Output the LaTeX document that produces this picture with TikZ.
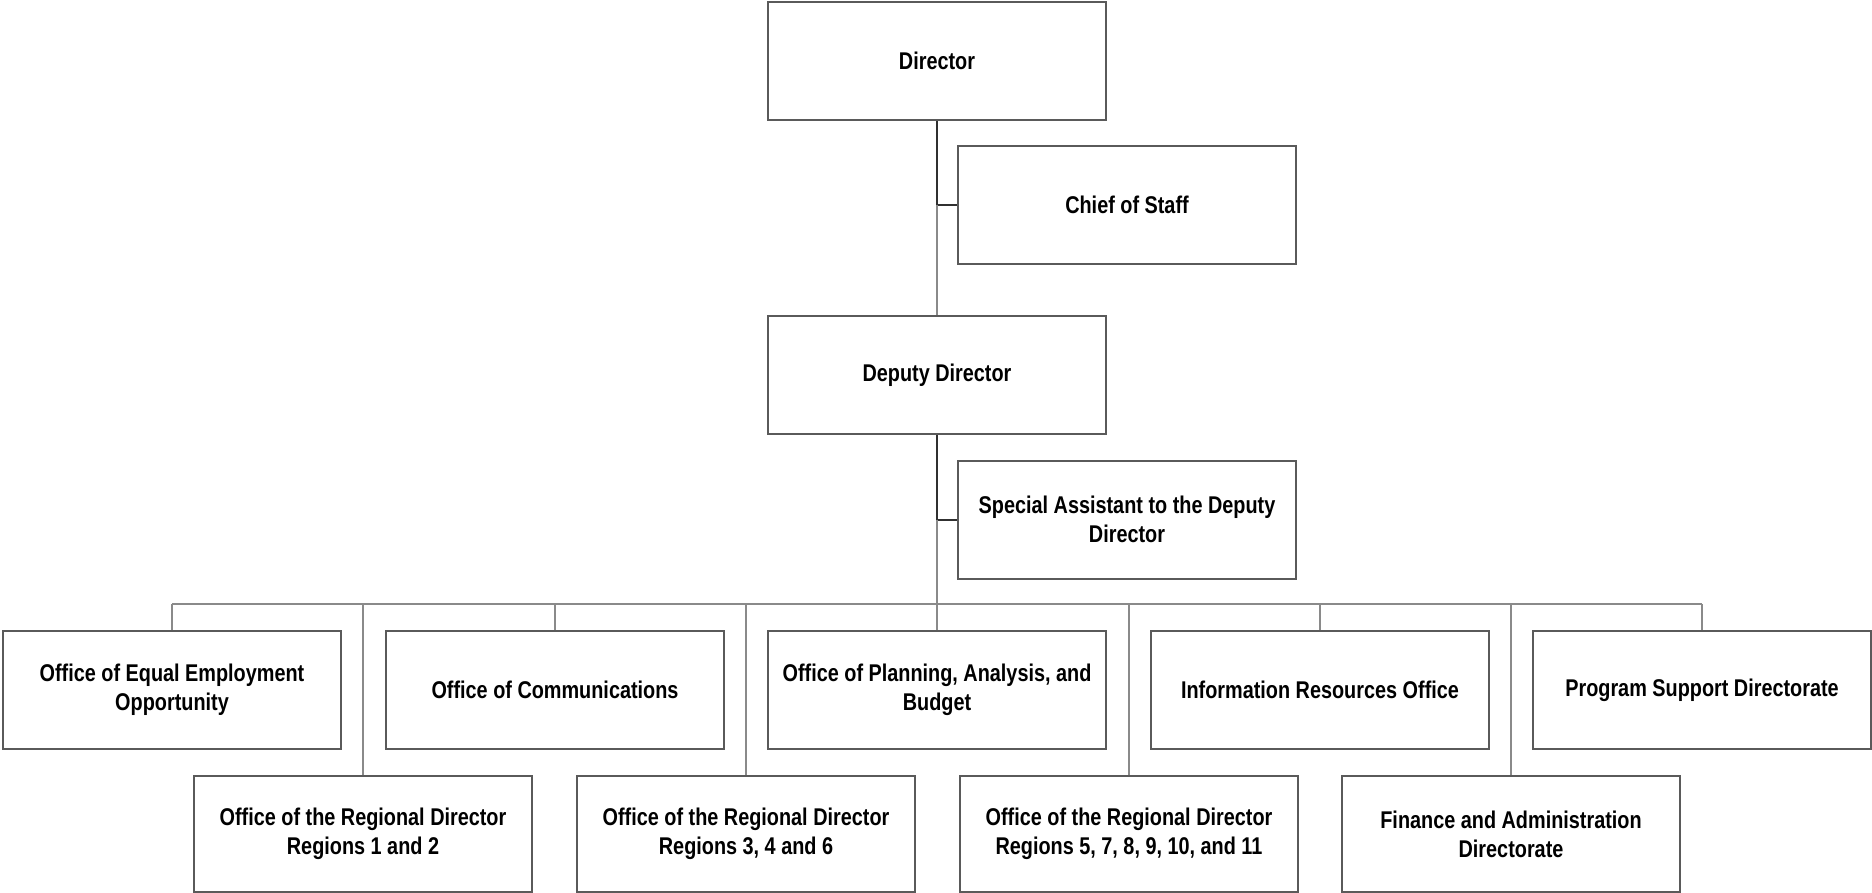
\documentclass[tikz,border=0pt]{standalone}
\usepackage{fontspec}
\setmainfont{Liberation Sans}[FakeStretch=0.82]
\usetikzlibrary{positioning,calc}
\definecolor{boxEdge}{HTML}{5A5A5A}
\definecolor{linkGray}{HTML}{8A8A8A}
\definecolor{linkDark}{HTML}{303030}

\tikzset{
  unitbox/.style={draw=boxEdge, line width=1pt, fill=white, minimum width=169pt,
    minimum height=59pt, align=center, inner sep=2pt,
    font=\fontsize{12.1pt}{14.6pt}\selectfont\bfseries},
  lowbox/.style={unitbox, minimum height=58pt},
  linkthin/.style={draw=linkGray, line width=0.6pt},
  linkbold/.style={draw=linkDark, line width=1pt}
}

\begin{document}
\begin{tikzpicture}[x=0.5pt, y=-0.5pt]
        \useasboundingbox (0,0) rectangle (1872,893);
        % top of the chart
        \node[unitbox] (dir) at (937,61) {Director};
        \node[unitbox] (cos) at (1127,205) {Chief of Staff};
        \node[unitbox] (dep) at (937,375) {Deputy Director};
        \node[unitbox] (spa) at (1127,519.5) {Special Assistant to the Deputy\\Director};
        \draw[linkbold] (dir.south) |- (cos.west);
        \draw[linkthin] (dir.south |- cos.west) -- (dep.north);
        \draw[linkbold] (dep.south) |- (spa.west);
        % offices, first row
        \node[unitbox] (eeo) at (172,690) {Office of Equal Employment\\Opportunity};
        \node[unitbox] (com) at (555,690) {Office of Communications};
        \node[unitbox] (pab) at (937,690) {Office of Planning, Analysis, and\\Budget};
        \node[unitbox] (iro) at (1320,690) {Information Resources Office};
        \node[unitbox] (psd) at (1702,690) {Program Support Directorate};
        % regional offices, second row
        \node[lowbox] (rd12) at (363,834) {Office of the Regional Director\\Regions 1 and 2};
        \node[lowbox] (rd346) at (746,834) {Office of the Regional Director\\Regions 3, 4 and 6};
        \node[lowbox] (rd5to11) at (1129,834) {Office of the Regional Director\\Regions 5, 7, 8, 9, 10, and 11};
        \node[lowbox] (fad) at (1511,834) {Finance and Administration\\Directorate};
        % bus
        \coordinate (busL) at (172,604);
        \coordinate (busR) at (1702,604);
        \draw[linkthin] (busL) -- (busR);
        \draw[linkthin] (dep.south |- spa.west) -- (pab.north);
        \foreach \unit in {eeo,com,iro,psd,rd12,rd346,rd5to11,fad}
          \draw[linkthin] (\unit.north) -- (\unit.north |- busL);
      \end{tikzpicture}
\end{document}
